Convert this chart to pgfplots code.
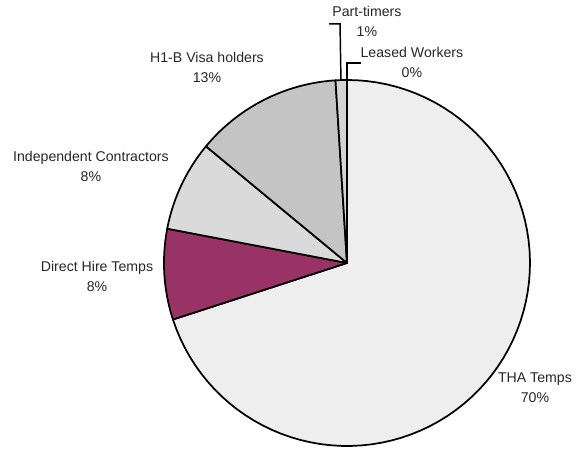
\documentclass[border=0pt]{standalone}
\usepackage{pgfplots}
\pgfplotsset{compat=1.18}
\usepackage{fontspec}
\setmainfont{Liberation Sans}

\definecolor{thagray}{HTML}{EEEEEE}
\definecolor{plum}{HTML}{993366}
\definecolor{indgray}{HTML}{DADADA}
\definecolor{hibgray}{HTML}{C4C4C4}
\definecolor{ptgray}{HTML}{D4D4D4}

\tikzset{lbl/.style={font=\fontsize{10.6}{15}\selectfont, align=center, text=black!85}}

\begin{document}
\begin{tikzpicture}
% shares in percent, clockwise from 12 o'clock
\pgfmathsetmacro\aA{90}
\pgfmathsetmacro\aB{\aA-3.6*70}  % THA Temps
\pgfmathsetmacro\aC{\aB-3.6*8}   % Direct Hire Temps
\pgfmathsetmacro\aD{\aC-3.6*8}   % Independent Contractors
\pgfmathsetmacro\aE{\aD-3.6*13}  % H1-B Visa holders
\pgfmathsetmacro\aF{\aE-3.6*1}   % Part-timers
\begin{axis}[
    hide axis,
    scale only axis,
    width=439.5pt, height=336pt,
    xmin=-1.896, xmax=1.306,
    ymin=-1.011, ymax=1.437,
    clip=false,
    slice/.style={draw=black, line width=1.3pt, line join=round, samples=80, data cs=polar},
    ]
    \path (rel axis cs:0,0) rectangle (rel axis cs:1,1);

    \addplot[slice, fill=thagray, domain=\aB:\aA] (x,1) -- (axis cs:0,0) -- cycle;
    \addplot[slice, fill=plum, domain=\aC:\aB] (x,1) -- (axis cs:0,0) -- cycle;
    \addplot[slice, fill=indgray, domain=\aD:\aC] (x,1) -- (axis cs:0,0) -- cycle;
    \addplot[slice, fill=hibgray, domain=\aE:\aD] (x,1) -- (axis cs:0,0) -- cycle;
    \addplot[slice, fill=ptgray, domain=\aF:\aE, samples=5] (x,1) -- (axis cs:0,0) -- cycle;
    % Leased Workers: 0%
    \draw[black, line width=1.3pt] (axis cs:0,0) -- (axis cs:0,1);

    % leader lines
    \draw[black, line width=1.1pt] (axis cs:-0.098,1.306) -- (axis cs:-0.038,1.306) -- (axis cs:-0.033,1.0);
    \draw[black, line width=1.1pt] (axis cs:0.077,1.093) -- (axis cs:0,1.093) -- (axis cs:0,1.0);

    % labels
    \node[lbl] at (axis cs:0.109,1.322) {Part-timers\\1\%};
    \node[lbl] at (axis cs:0.355,1.098) {Leased Workers\\0\%};
    \node[lbl] at (axis cs:-0.765,1.066) {H1-B Visa holders\\13\%};
    \node[lbl] at (axis cs:-1.399,0.530) {Independent Contractors\\8\%};
    \node[lbl] at (axis cs:-1.366,-0.071) {Direct Hire Temps\\8\%};
    \node[lbl] at (axis cs:1.027,-0.683) {THA Temps\\70\%};
\end{axis}
\end{tikzpicture}
\end{document}
